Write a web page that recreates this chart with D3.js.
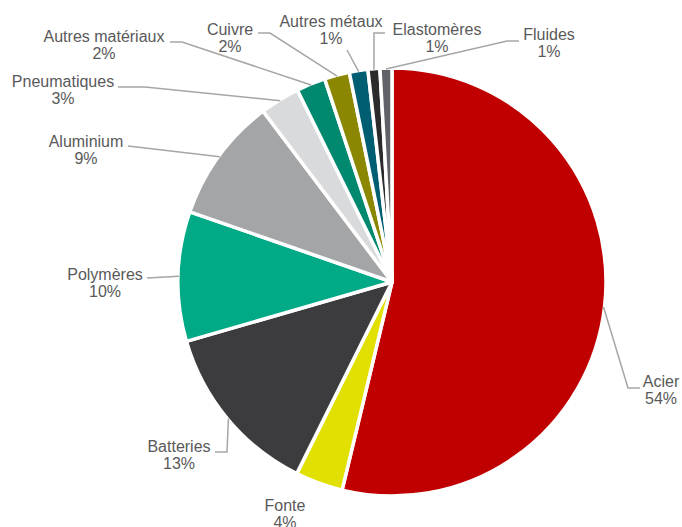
<!DOCTYPE html>
<html>
<head>
<meta charset="utf-8">
<script src="https://cdn.jsdelivr.net/npm/d3@7"></script>
<style>
  body { margin: 0; background: #fff; }
  text { font-family: "Liberation Sans", Arial, sans-serif; font-size: 16px; fill: #595959; }
</style>
</head>
<body>
<div id="chart"></div>
<script>
// Données
var categories = ["Acier", "Fonte", "Batteries", "Polymères", "Aluminium", "Pneumatiques",
  "Autres matériaux", "Cuivre", "Autres métaux", "Elastomères", "Fluides"];
var values = [53.8, 3.6, 13.2, 9.8, 9.4, 3.0, 2.2, 1.9, 1.4, 0.9, 0.9];
var colors = ["#c00000", "#e1e000", "#3c3c3e", "#00aa86", "#a3a5a7", "#d9dadb",
  "#00896e", "#8b8700", "#005e73", "#2b2b2b", "#5f6367"];

// Placement des étiquettes (centre du texte, ligne de base) et points du trait de rappel
var labelPos = [[661, 387], [285, 511], [179, 452], [105, 280], [86, 147], [63, 87],
  [104, 42], [230, 35], [331, 27], [437, 35], [549, 40]];
var leaderPts = [
  [[628, 388], [640, 388]],
  null,
  [[227, 452], [215, 452]],
  [[147, 278]],
  [[128, 146]],
  [[145, 87], [118, 87]],
  [[182, 42], [170, 42]],
  [[270, 33], [258, 33]],
  [[347, 50]],
  ["x", 33], // vertical puis horizontal
  [[507, 41], [519, 41]]
];

var width = 682, height = 527;
var cx = 392, cy = 282, radius = 214;

var svg = d3.select("#chart")
  .append("svg")
  .attr("width", width)
  .attr("height", height);

var data = categories.map(function(c, i) {
  return { name: c, value: values[i], color: colors[i], i: i };
});

var pie = d3.pie()
  .sort(null)
  .value(function(d) { return d.value; });

var arc = d3.arc()
  .innerRadius(0)
  .outerRadius(radius);

var arcs = pie(data);

var g = svg.append("g")
  .attr("transform", "translate(" + cx + "," + cy + ")");

// Parts
g.selectAll(".slice")
  .data(arcs)
  .enter().append("path")
  .attr("class", "slice")
  .attr("d", arc)
  .attr("fill", function(d) { return d.data.color; })
  .attr("stroke", "white")
  .attr("stroke-width", 3.5)
  .attr("stroke-linejoin", "round");

// Traits de rappel
var line = d3.line();
arcs.forEach(function(d) {
  var pts = leaderPts[d.data.i];
  if (!pts) return;
  var mid = (d.startAngle + d.endAngle) / 2;
  var r = radius - 1;
  var start = [cx + r * Math.sin(mid), cy - r * Math.cos(mid)];
  var path;
  if (pts[0] === "x") {
    path = [start, [start[0], pts[1]], [start[0] + 11, pts[1]]];
  } else {
    path = [start].concat(pts);
  }
  svg.append("path")
    .attr("d", line(path))
    .attr("fill", "none")
    .attr("stroke", "#a6a6a6")
    .attr("stroke-width", 1.5);
});

// Étiquettes
arcs.forEach(function(d) {
  var p = labelPos[d.data.i];
  var t = svg.append("text")
    .attr("x", p[0])
    .attr("y", p[1])
    .attr("text-anchor", "middle");
  t.append("tspan")
    .attr("x", p[0])
    .text(d.data.name);
  t.append("tspan")
    .attr("x", p[0])
    .attr("dy", 17)
    .text(Math.round(d.data.value) + "%");
});
</script>
</body>
</html>
